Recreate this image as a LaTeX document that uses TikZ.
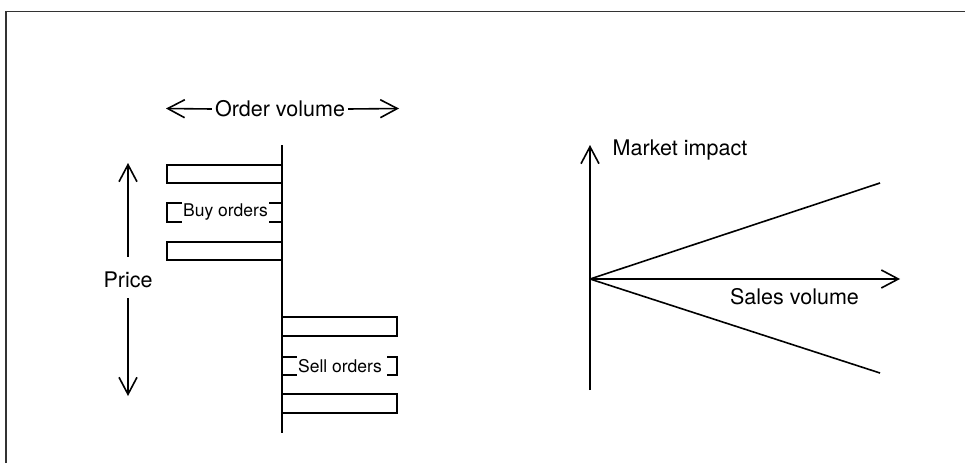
\documentclass[tikz,border=0pt]{standalone}
\usepackage{fontspec}
\setmainfont{TeX Gyre Heros}
\usetikzlibrary{arrows.meta}
\begin{document}
\begin{tikzpicture}[x=1pt,y=-1pt,
  ln/.style={line width=1.6pt,black},
  ax/.style={line width=2pt,black},
  arr/.style={line width=1.6pt,-{Straight Barb[length=17pt,width=18pt,line width=1.6pt]}},
  big/.style={font=\fontsize{21.5}{25}\selectfont,inner sep=0pt},
  small/.style={font=\fontsize{17.5}{20}\selectfont,inner sep=0pt}]
\useasboundingbox (0,0) rectangle (965,463);
% frame
\draw[line width=1.8pt,black!80] (6,463) -- (6,11.5) -- (965,11.5);

% ---- left chart ----
\node[big] (ov) at (280,109) {Order volume};
\coordinate (ovL) at (166,108.5);
\coordinate (ovR) at (399,108.5);
\draw[arr] ([xshift=-3pt]ov.west) -- (ovL);
\draw[arr] ([xshift=3pt]ov.east) -- (ovR);

\node[big] (price) at (128,280) {Price};
\coordinate (pTop) at (128,163);
\coordinate (pBot) at (128,396);
\draw[arr] ([yshift=15pt]price.north) -- (pTop);
\draw[arr] ([yshift=-10pt]price.south) -- (pBot);

\draw[ax] (282,145) -- (282,433);
% buy bars
\draw[ln] (282,165) rectangle (167,183);
\draw[ln] (282,242) rectangle (167,260);
\node[small] (buy) at (225.5,212.5) {Buy orders};
\draw[ln] (182,203) -- (167,203) -- (167,222) -- (182,222);
\draw[ln] (269,203) -- (282,203);
\draw[ln] (269,222) -- (282,222);
% sell bars
\draw[ln] (282,317) rectangle (397,336);
\draw[ln] (282,394) rectangle (397,413);
\node[small] (sell) at (340,366) {Sell orders};
\draw[ln] (282,357) -- (297,357);
\draw[ln] (282,375) -- (297,375);
\draw[ln] (387,357) -- (397,357) -- (397,375) -- (387,375);

% ---- right chart ----
\coordinate (o) at (590,279);
\coordinate (yb) at (590,390);
\coordinate (yt) at (590,145);
\coordinate (xr) at (900,279);
\coordinate (up) at (880,183);
\coordinate (dn) at (880,373);
\draw[arr] (yb) -- (yt);
\draw[arr] (o) -- (xr);
\draw[ln] (o) -- (up);
\draw[ln] (o) -- (dn);
\node[big] (mi) at (680,150.5) {Market impact};
\node[big] (sv) at (794.5,297) {Sales volume};
\end{tikzpicture}
\end{document}
